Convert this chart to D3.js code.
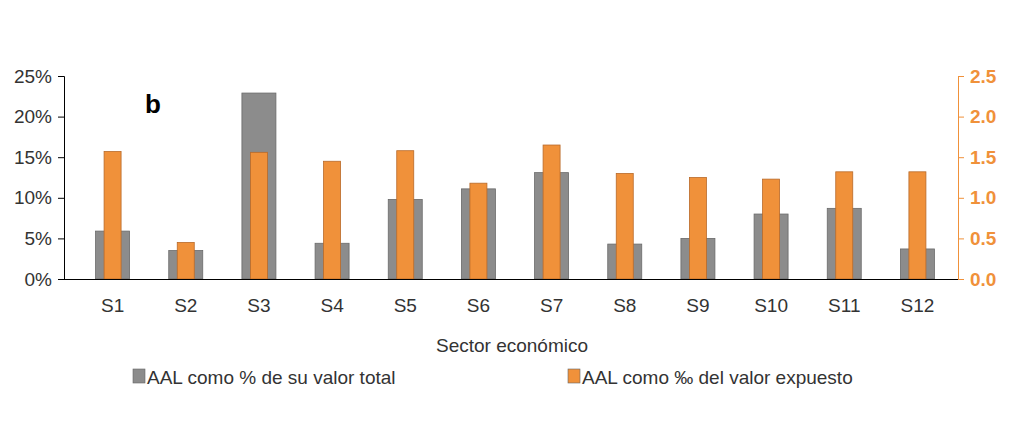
<!DOCTYPE html>
<html><head><meta charset="utf-8">
<script src="https://cdn.jsdelivr.net/npm/d3@7"></script>
<style>body{margin:0;background:#fff;font-family:"Liberation Sans",Arial,sans-serif}</style>
</head><body><svg id="c" width="1019" height="438"></svg>
<script>
const categories=["S1","S2","S3","S4","S5","S6","S7","S8","S9","S10","S11","S12"];
const pctTotal=[5.9,3.5,22.9,4.4,9.8,11.1,13.1,4.3,5.0,8.0,8.7,3.7];
const permilleExposed=[1.57,0.45,1.56,1.45,1.58,1.18,1.65,1.30,1.25,1.23,1.32,1.32];
const leftTicks=[0,5,10,15,20,25];
const rightTicks=[0,0.5,1.0,1.5,2.0,2.5];
const svg=d3.select("#c");
const x=d3.scaleBand().domain(categories).range([76,954]);
const yL=d3.scaleLinear().domain([0,25]).range([279,76]);
const yR=d3.scaleLinear().domain([0,2.5]).range([279,76]);
const gray="#8c8c8c",orange="#f0913a";
svg.selectAll(".g").data(categories).enter().append("rect")
 .attr("x",d=>x(d)+x.bandwidth()/2-17).attr("width",34)
 .attr("y",(d,i)=>yL(pctTotal[i])).attr("height",(d,i)=>279-yL(pctTotal[i]))
 .attr("fill",gray).attr("stroke","#6a6a6a").attr("stroke-width",0.8);
svg.selectAll(".o").data(categories).enter().append("rect")
 .attr("x",d=>x(d)+x.bandwidth()/2-8.5).attr("width",17)
 .attr("y",(d,i)=>yR(permilleExposed[i])).attr("height",(d,i)=>279-yR(permilleExposed[i]))
 .attr("fill",orange).attr("stroke","#b86a2a").attr("stroke-width",0.8);
const la=svg.append("g").attr("transform","translate(64,0)").call(d3.axisLeft(yL).tickValues(leftTicks).tickFormat(d=>d+"%").tickSize(6).tickPadding(6));
la.select(".domain").attr("stroke","#000");
la.selectAll("text").attr("font-size",19).attr("fill","#333").attr("font-family","Liberation Sans, Arial");
const ra=svg.append("g").attr("transform","translate(958,0)").call(d3.axisRight(yR).tickValues(rightTicks).tickFormat(d3.format(".1f")).tickSize(6).tickPadding(6));
ra.select(".domain").attr("stroke",orange);
ra.selectAll("line").attr("stroke",orange);
ra.selectAll("text").attr("font-size",19).attr("fill",orange).attr("font-weight","bold").attr("font-family","Liberation Sans, Arial");
svg.append("line").attr("x1",64).attr("x2",958).attr("y1",279.5).attr("y2",279.5).attr("stroke","#000");
svg.append("g").selectAll("text").data(categories).enter().append("text")
 .attr("x",d=>x(d)+x.bandwidth()/2).attr("y",312).attr("text-anchor","middle")
 .attr("font-size",19).attr("fill","#333").text(d=>d);
svg.append("text").attr("x",512).attr("y",352).attr("text-anchor","middle").attr("font-size",19).attr("fill","#333").text("Sector económico");
svg.append("text").attr("x",145).attr("y",113).attr("font-size",26).attr("font-weight","bold").text("b");
const leg=[["AAL como % de su valor total",gray,133],["AAL como ‰ del valor expuesto",orange,568]];
leg.forEach(l=>{
 svg.append("rect").attr("x",l[2]).attr("y",369).attr("width",12).attr("height",14).attr("fill",l[1]).attr("stroke","#666").attr("stroke-width",0.6);
 svg.append("text").attr("x",l[2]+14).attr("y",384).attr("font-size",19).attr("fill","#333").text(l[0]);
});
</script></body></html>
